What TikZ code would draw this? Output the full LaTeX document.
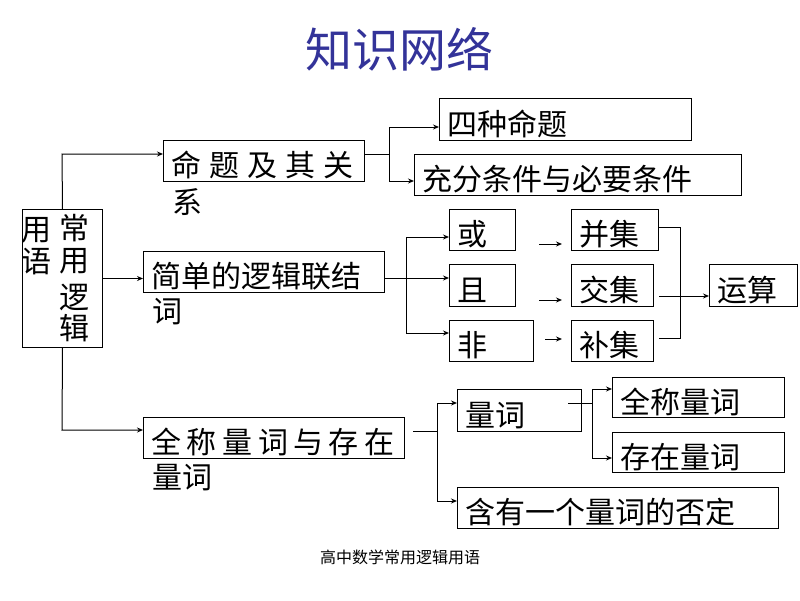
\documentclass[tikz,border=0pt]{standalone}
\usepackage{fontspec}
\newfontfamily\cjk{Noto Sans CJK SC}
\usetikzlibrary{arrows.meta}
\definecolor{ttl}{HTML}{333399}
\newcommand{\gA}{\kern8pt}
\newcommand{\gB}{\kern5.5pt}
\tikzset{
  frame/.style={draw, line width=1pt, inner sep=0pt, anchor=north west},
  tbox/.style={frame, inner xsep=8pt, minimum height=#1, align=left, text height=34pt, text depth=3pt, font=\cjk\fontsize{30}{32}\selectfont},
  tbox/.default=41pt,
  ctext/.style={inner sep=0pt, font=\cjk\fontsize{30}{32}\selectfont},
  conn/.style={line width=1pt},
  arr/.style={line width=1pt, -{Stealth[length=6pt,width=5pt]}}
}
\begin{document}
\begin{tikzpicture}[x=1pt,y=-1pt]
\useasboundingbox (0,0) rectangle (800,600);
% title and footer
\node[inner sep=0pt, text=ttl, font=\cjk\fontsize{47}{50}\selectfont] (title) at (399,49) {知识网络};
\node[inner sep=0pt, font=\cjk\fontsize{16}{18}\selectfont] (foot) at (400,557) {高中数学常用逻辑用语};
% root
\node[frame, minimum width=80pt, minimum height=138pt] (root) at (22,209) {};
\node[ctext] (r1) at (36,230) {用};
\node[ctext] (r2) at (36,261) {语};
\node[ctext] (r3) at (74,228) {常};
\node[ctext] (r4) at (74,261) {用};
\node[ctext] (r5) at (74,297) {逻};
\node[ctext] (r6) at (74,328) {辑};
% level 1
\node[tbox, text width=185pt] (mt) at (163,140) {命\gA{}题\gA{}及\gA{}其\gA{}关};
\node[ctext, anchor=west] (mt2) at (172,202) {系};
\node[tbox, text width=225pt] (simple) at (143,251) {简单的逻辑联结};
\node[ctext, anchor=west] (simple2) at (152,312) {词};
\node[tbox, text width=245pt] (quant) at (143,417) {全\gB{}称\gB{}量\gB{}词\gB{}与\gB{}存\gB{}在};
\node[ctext, anchor=west] (quant2) at (152,478) {量词};
% level 2
\node[tbox=42pt, text width=236pt] (four) at (439,98) {四种命题};
\node[tbox, text width=311pt] (suff) at (414,154) {充分条件与必要条件};
\node[tbox, text width=50pt] (or) at (449,209) {或};
\node[tbox=42pt, text width=50pt] (and) at (449,264) {且};
\node[tbox, text width=68pt] (not) at (449,320) {非};
\node[tbox, text width=71pt] (union) at (571,209) {并集};
\node[tbox=42pt, text width=66pt] (inter) at (571,264) {交集};
\node[tbox, text width=66pt] (comp) at (571,320) {补集};
\node[tbox=42pt, text width=72pt] (op) at (709,264) {运算};
\node[tbox=42pt, text width=108pt] (qw) at (457,389) {量词};
\node[tbox=40pt, text width=156pt] (univ) at (612,377) {全称量词};
\node[tbox=40pt, text width=156pt] (exist) at (612,432) {存在量词};
\node[tbox, text width=305pt] (neg) at (457,487) {含有一个量词的否定};
% junction coordinates
\coordinate (j1) at (62,154);
\coordinate (j2) at (62,430);
\coordinate (j3) at (389,154);
\coordinate (j4) at (389,127);
\coordinate (j5) at (389,181);
\coordinate (j6) at (406,278);
\coordinate (j7) at (406,237);
\coordinate (j8) at (406,333);
\coordinate (j9) at (680,227);
\coordinate (j10) at (680,338);
\coordinate (j11) at (680,296);
\coordinate (j12) at (437,431);
\coordinate (j13) at (437,403);
\coordinate (j14) at (437,501);
\coordinate (j15) at (592,403);
\coordinate (j16) at (592,389);
\coordinate (j17) at (592,458);
\coordinate (q0) at (413,431);
\coordinate (w0) at (568,403);
\coordinate (a1s) at (539,244);
\coordinate (a1e) at (562,244);
\coordinate (a2s) at (539,300);
\coordinate (a2e) at (562,300);
\coordinate (a3s) at (545,339);
\coordinate (a3e) at (562,339);
% connectors
\draw[arr] (root.north) -- (j1) -- (j1 -| mt.west);
\draw[arr] (root.east) -- (root.east -| simple.west);
\draw[arr] (root.south) -- (j2) -- (j2 -| quant.west);
\draw[conn] (mt.east |- j3) -- (j3);
\draw[arr] (j3) -- (j4) -- (j4 -| four.west);
\draw[arr] (j3) -- (j5) -- (j5 -| suff.west);
\draw[conn] (simple.east |- j6) -- (j6);
\draw[arr] (j6) -- (j7) -- (j7 -| or.west);
\draw[arr] (j6) -- (j6 -| and.west);
\draw[arr] (j6) -- (j8) -- (j8 -| not.west);
\draw[arr] (a1s) -- (a1e);
\draw[arr] (a2s) -- (a2e);
\draw[arr] (a3s) -- (a3e);
\draw[conn] (union.east |- j9) -- (j9) -- (j10) -- ([xshift=5pt]comp.east |- j10);
\draw[arr] ([xshift=5pt]inter.east |- j11) -- (j11 -| op.west);
\draw[conn] (q0) -- (j12);
\draw[arr] (j12) -- (j13) -- (j13 -| qw.west);
\draw[arr] (j12) -- (j14) -- (j14 -| neg.west);
\draw[conn] (w0) -- (j15);
\draw[arr] (j15) -- (j16) -- (j16 -| univ.west);
\draw[arr] (j15) -- (j17) -- (j17 -| exist.west);
\end{tikzpicture}
\end{document}
